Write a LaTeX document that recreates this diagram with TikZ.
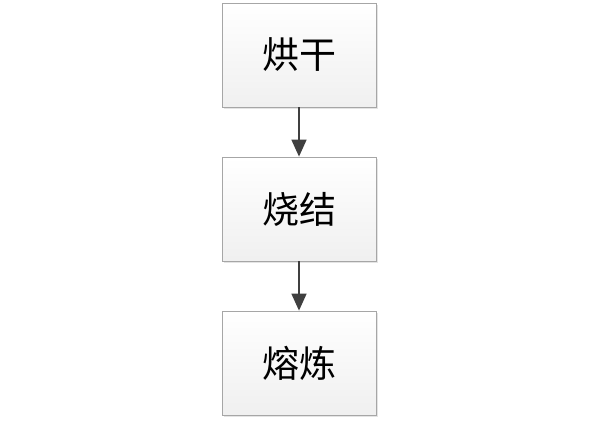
\documentclass[tikz,border=0pt]{standalone}
\usepackage{fontspec}
\newfontfamily\cjk{Noto Sans CJK SC}
\usetikzlibrary{arrows.meta,shadows}
\begin{document}
\begin{tikzpicture}[x=1pt,y=-1pt,
  stepbox/.style={draw=gray!70, line width=0.8pt, minimum width=154pt, minimum height=104pt,
    top color=white, bottom color=gray!12, inner sep=0pt,
    drop shadow={shadow xshift=2pt, shadow yshift=-2pt, fill=gray!35, opacity=0.6},
    font=\cjk\fontsize{37}{40}\selectfont},
  flow/.style={draw=black!75, line width=1.6pt, -{Triangle[length=17pt,width=15pt]}}]
\useasboundingbox (0,0) rectangle (600,423);
\fill[white] (0,0) rectangle (600,423);
\node[stepbox] (a) at (299,55) {烘干};
\node[stepbox] (b) at (299,209) {烧结};
\node[stepbox] (c) at (299,363) {熔炼};
\draw[flow] (a) -- (b);
\draw[flow] (b) -- (c);
\end{tikzpicture}
\end{document}
